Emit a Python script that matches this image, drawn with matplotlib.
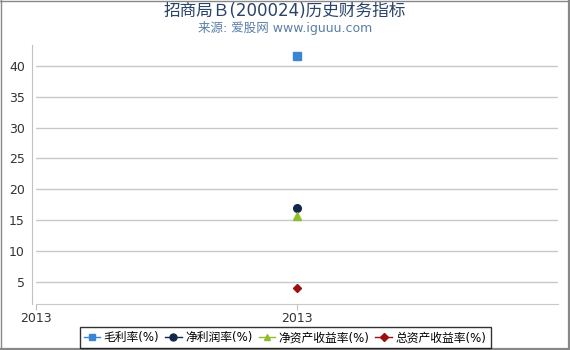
import matplotlib
matplotlib.use("Agg")
import matplotlib.pyplot as plt
from matplotlib.lines import Line2D

plt.rcParams['font.family'] = ['DejaVu Sans', 'Noto Sans CJK SC']

title = "招商局Ｂ(200024)历史财务指标"
subtitle = "来源: 爱股网 www.iguuu.com"
years = ["2013"]
xtick_labels = ["2013", "2013"]
series_names = ["毛利率(%)", "净利润率(%)", "净资产收益率(%)", "总资产收益率(%)"]
gross_margin = [41.6]
net_margin = [16.9]
roe = [15.7]
roa = [4.05]
series_values = [gross_margin, net_margin, roe, roa]
colors = ["#3a85d6", "#14294a", "#8fbe2a", "#9b1010"]
markers = ["s", "o", "^", "D"]
msizes = [5.5, 5.5, 5.5, 4.2]

W, H = 570, 350
fig = plt.figure(figsize=(5.7, 3.5), dpi=100)
ax = fig.add_axes([36/W, 1 - 304/H, (558-36)/W, (304-45)/H])

xs = list(range(len(years)))
for vals, c, m, ms in zip(series_values, colors, markers, msizes):
    ax.plot(xs, vals, linestyle="none", marker=m, color=c, markersize=ms, zorder=3,
            clip_on=False)

ax.set_xlim(-1, 1)
ax.set_ylim(1.4, 43.4)
ax.set_yticks([5, 10, 15, 20, 25, 30, 35, 40])
ax.set_xticks([-1, 0])
ax.set_xticklabels(xtick_labels)
ax.grid(axis="y", color="#c8c8c8", linewidth=1)
ax.set_axisbelow(True)
for s in ["top", "right"]:
    ax.spines[s].set_visible(False)
ax.spines["left"].set_color("#c0c0c0")
ax.spines["left"].set_position(("outward", 3))
ax.spines["bottom"].set_color("#c8c8c8")
ax.tick_params(axis="y", length=0, labelsize=9, labelcolor="#333333", pad=5)
ax.tick_params(axis="x", length=4, color="#c0c0c0", labelsize=9, labelcolor="#333333", pad=2)

fig.text(0.5, 1 - 11/H, title, ha="center", va="center", fontsize=12, color="#2a4368")
fig.text(0.5, 1 - 28/H, subtitle, ha="center", va="center", fontsize=9, color="#5a7ea8")

handles = [Line2D([0], [0], color=c, marker=m, markersize=ms-0.5, linewidth=1)
           for c, m, ms in zip(colors, markers, msizes)]
leg = fig.legend(handles, series_names, loc="lower center", bbox_to_anchor=(0.5, -0.012),
                 ncol=4, fontsize=8.5, frameon=True, handlelength=1.4, handletextpad=0.3,
                 columnspacing=0.5, borderpad=0.35, fancybox=False)
leg.get_frame().set_edgecolor("black")
leg.get_frame().set_linewidth(1)

# figure border
border = "#888888"
fig.add_artist(Line2D([0.5/W, 0.5/W], [0, 1], transform=fig.transFigure, color=border, lw=1))
fig.add_artist(Line2D([0, 1], [1 - 0.5/H, 1 - 0.5/H], transform=fig.transFigure, color=border, lw=1))
fig.add_artist(Line2D([1 - 1/W, 1 - 1/W], [0, 1], transform=fig.transFigure, color=border, lw=1.6))
fig.add_artist(Line2D([0, 1], [1/H, 1/H], transform=fig.transFigure, color=border, lw=1.6))

fig.savefig("out.png", dpi=100)
